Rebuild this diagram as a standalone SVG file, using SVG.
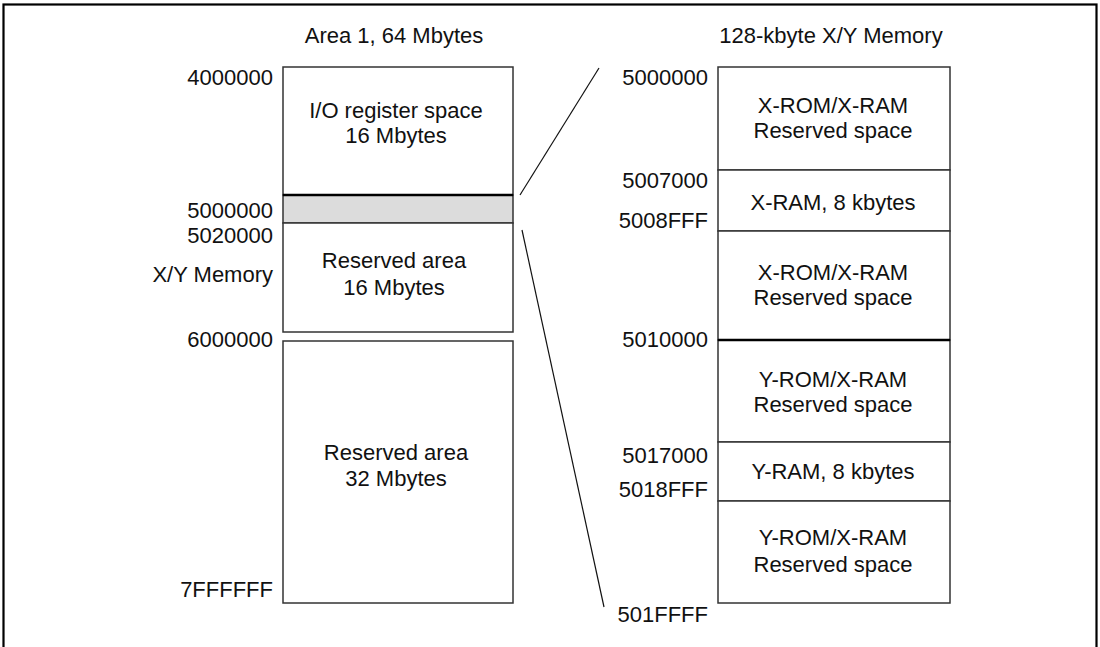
<svg xmlns="http://www.w3.org/2000/svg" width="1100" height="647" viewBox="0 0 1100 647">
<style>
text{font-family:"Liberation Sans",Arial,sans-serif;font-size:22px;fill:#111}
.c{text-anchor:middle}
.r{text-anchor:end}
.box{fill:#fff;stroke:#333;stroke-width:1.5}
.sep{stroke:#333;stroke-width:1.5}
.thick{stroke:#000;stroke-width:2.5}
.conn{stroke:#111;stroke-width:1.2;fill:none}
</style>
<rect x="0" y="0" width="1100" height="647" fill="#fff"/>
<rect x="3.5" y="4.5" width="1093" height="660" fill="none" stroke="#000" stroke-width="2.2"/>

<text class="c" x="394" y="43">Area 1, 64 Mbytes</text>
<text class="c" x="831" y="43">128-kbyte X/Y Memory</text>

<g id="left-io">
<rect class="box" x="283" y="67" width="230" height="128"/>
<text class="c" x="396" y="118">I/O register space</text>
<text class="c" x="396" y="143">16 Mbytes</text>
</g>
<g id="left-xy">
<rect x="283" y="195" width="230" height="28" fill="#dcdcdc" stroke="#333" stroke-width="1.5"/>
<line class="thick" x1="283" y1="195" x2="513" y2="195"/>
</g>
<g id="left-reserved16">
<rect class="box" x="283" y="223" width="230" height="109"/>
<text class="c" x="394" y="268">Reserved area</text>
<text class="c" x="394" y="295">16 Mbytes</text>
</g>
<g id="left-reserved32">
<rect class="box" x="283" y="341" width="230" height="262"/>
<text class="c" x="396" y="460">Reserved area</text>
<text class="c" x="396" y="486">32 Mbytes</text>
</g>
<g id="left-labels">
<text class="r" x="273" y="85">4000000</text>
<text class="r" x="273" y="218">5000000</text>
<text class="r" x="273" y="243">5020000</text>
<text class="r" x="273" y="282">X/Y Memory</text>
<text class="r" x="273" y="347">6000000</text>
<text class="r" x="273" y="597">7FFFFFF</text>
</g>

<g id="right-x-res1">
<rect class="box" x="718" y="67" width="232" height="103"/>
<text class="c" x="833" y="113">X-ROM/X-RAM</text>
<text class="c" x="833" y="138">Reserved space</text>
</g>
<g id="right-xram">
<rect class="box" x="718" y="170" width="232" height="61"/>
<text class="c" x="833" y="210">X-RAM, 8 kbytes</text>
</g>
<g id="right-x-res2">
<rect class="box" x="718" y="231" width="232" height="109"/>
<text class="c" x="833" y="280">X-ROM/X-RAM</text>
<text class="c" x="833" y="305">Reserved space</text>
</g>
<g id="right-y-res1">
<rect class="box" x="718" y="340" width="232" height="102"/>
<line class="thick" x1="718" y1="340" x2="950" y2="340"/>
<text class="c" x="833" y="387">Y-ROM/X-RAM</text>
<text class="c" x="833" y="412">Reserved space</text>
</g>
<g id="right-yram">
<rect class="box" x="718" y="442" width="232" height="59"/>
<text class="c" x="833" y="479">Y-RAM, 8 kbytes</text>
</g>
<g id="right-y-res2">
<rect class="box" x="718" y="501" width="232" height="102"/>
<text class="c" x="833" y="545">Y-ROM/X-RAM</text>
<text class="c" x="833" y="572">Reserved space</text>
</g>
<g id="right-labels">
<text class="r" x="708" y="85">5000000</text>
<text class="r" x="708" y="188">5007000</text>
<text class="r" x="708" y="228">5008FFF</text>
<text class="r" x="708" y="347">5010000</text>
<text class="r" x="708" y="463">5017000</text>
<text class="r" x="708" y="497">5018FFF</text>
<text class="r" x="708" y="622">501FFFF</text>
</g>

<g id="connectors">
<line class="conn" x1="520" y1="195" x2="599" y2="68"/>
<line class="conn" x1="522" y1="230" x2="604" y2="607"/>
</g>
</svg>
